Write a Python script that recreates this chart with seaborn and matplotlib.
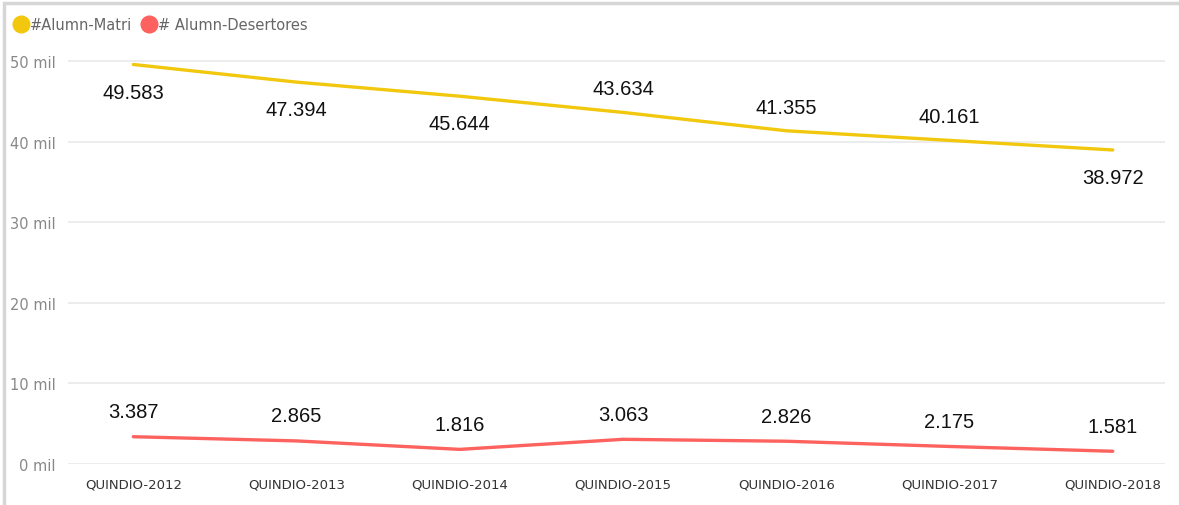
import numpy as np
import pandas as pd
import matplotlib
matplotlib.use("Agg")
import matplotlib.pyplot as plt
import seaborn as sns
from matplotlib.lines import Line2D
from matplotlib.patches import Rectangle

years = ["QUINDIO-2012", "QUINDIO-2013", "QUINDIO-2014", "QUINDIO-2015",
         "QUINDIO-2016", "QUINDIO-2017", "QUINDIO-2018"]
matri = [49583, 47394, 45644, 43634, 41355, 40161, 38972]
deser = [3387, 2865, 1816, 3063, 2826, 2175, 1581]
matri_lbl = ["49.583", "47.394", "45.644", "43.634", "41.355", "40.161", "38.972"]
deser_lbl = ["3.387", "2.865", "1.816", "3.063", "2.826", "2.175", "1.581"]
matri_pos = ["below", "below", "below", "above", "above", "above", "below"]

df = pd.DataFrame({
    "cat": years * 2,
    "x": list(range(len(years))) * 2,
    "val": [v / 1000 for v in matri] + [v / 1000 for v in deser],
    "serie": ["#Alumn-Matri"] * 7 + ["# Alumn-Desertores"] * 7,
})

sns.set_style("white")
plt.rcParams['font.family'] = ['Segoe UI', 'DejaVu Sans']

fig = plt.figure(figsize=(11.79, 5.06), dpi=100)
ax = fig.add_axes([68 / 1179, (506 - 465) / 506, (1165 - 68) / 1179, 419 / 506])

pal = {"#Alumn-Matri": "#F2C80F", "# Alumn-Desertores": "#FD625E"}
sns.lineplot(data=df, x="x", y="val", hue="serie", palette=pal, linewidth=2.4,
             ax=ax, legend=False, sort=False)

ax.set_xlim(-0.4, 6.32)
ax.set_ylim(0, 52)
ax.set_yticks([0, 10, 20, 30, 40, 50])
ax.set_yticklabels(["0 mil", "10 mil", "20 mil", "30 mil", "40 mil", "50 mil"],
                   color="#888888", fontsize=10.5)
ax.set_xticks(range(len(years)))
ax.set_xticklabels(years, color="#333333", fontsize=9.5)
ax.tick_params(axis="both", length=0)
ax.tick_params(axis="x", pad=10)
ax.tick_params(axis="y", pad=9)
ax.grid(axis="y", color="#e9e9e9", linewidth=1.2)
ax.set_axisbelow(True)
for s in ax.spines.values():
    s.set_visible(False)
ax.set_xlabel("")
ax.set_ylabel("")

lblfont = dict(family=['Liberation Sans', 'DejaVu Sans'], fontsize=14.5,
               color="#111111", ha="center", va="center")
for i, (v, t, p) in enumerate(zip(matri, matri_lbl, matri_pos)):
    off = -20 if p == "below" else 17
    ax.annotate(t, (i, v / 1000), xytext=(0, off), textcoords="offset points",
                annotation_clip=False, **lblfont)
for i, (v, t) in enumerate(zip(deser, deser_lbl)):
    ax.annotate(t, (i, v / 1000), xytext=(0, 18), textcoords="offset points",
                annotation_clip=False, **lblfont)

handles = [Line2D([], [], marker="o", linestyle="", markersize=12, color=pal[k])
           for k in pal]
fig.legend(handles, list(pal.keys()), loc="upper left", bbox_to_anchor=(-0.006, 0.99),
           frameon=False, ncol=2, handletextpad=-0.4, columnspacing=0.2,
           fontsize=10.5, labelcolor="#666666")

# light border like the report frame
fig.patches.append(Rectangle((4 / 1179, -0.01), 1.1, (506 - 4) / 506 + 0.01,
                             transform=fig.transFigure, fill=False,
                             edgecolor="#d6d6d6", linewidth=2.5))

fig.savefig("out.png", dpi=100)
